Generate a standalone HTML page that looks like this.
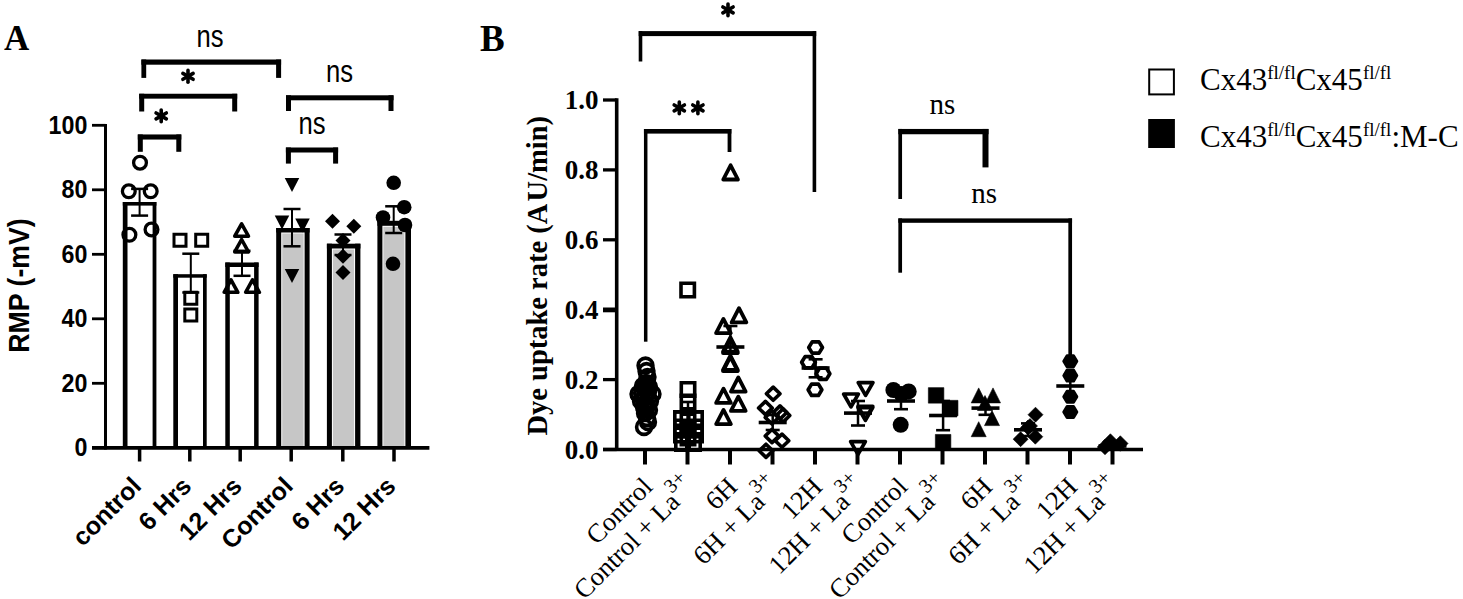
<!DOCTYPE html>
<html><head><meta charset="utf-8"><style>
html,body{margin:0;padding:0;background:#fff;overflow:hidden;}
svg{display:block;}
</style></head><body>
<svg width="1463" height="599" viewBox="0 0 1463 599">
<rect width="1463" height="599" fill="#fff"/>
<text x="4.00" y="49.50" font-family='"Liberation Serif", serif' font-size="35" font-weight="bold" text-anchor="start" >A</text>
<line x1="105.50" y1="124.00" x2="105.50" y2="449.50" stroke="#000" stroke-width="3" stroke-linecap="butt"/>
<line x1="92.00" y1="447.80" x2="105.50" y2="447.80" stroke="#000" stroke-width="2.8" stroke-linecap="butt"/>
<text transform="translate(87.3,456.35) scale(0.88,1)" font-family='"Liberation Sans", sans-serif' font-size="26.4" font-weight="bold" text-anchor="end">0</text>
<line x1="92.00" y1="383.30" x2="105.50" y2="383.30" stroke="#000" stroke-width="2.8" stroke-linecap="butt"/>
<text transform="translate(87.3,391.85) scale(0.88,1)" font-family='"Liberation Sans", sans-serif' font-size="26.4" font-weight="bold" text-anchor="end">20</text>
<line x1="92.00" y1="318.80" x2="105.50" y2="318.80" stroke="#000" stroke-width="2.8" stroke-linecap="butt"/>
<text transform="translate(87.3,327.35) scale(0.88,1)" font-family='"Liberation Sans", sans-serif' font-size="26.4" font-weight="bold" text-anchor="end">40</text>
<line x1="92.00" y1="254.30" x2="105.50" y2="254.30" stroke="#000" stroke-width="2.8" stroke-linecap="butt"/>
<text transform="translate(87.3,262.85) scale(0.88,1)" font-family='"Liberation Sans", sans-serif' font-size="26.4" font-weight="bold" text-anchor="end">60</text>
<line x1="92.00" y1="189.80" x2="105.50" y2="189.80" stroke="#000" stroke-width="2.8" stroke-linecap="butt"/>
<text transform="translate(87.3,198.35) scale(0.88,1)" font-family='"Liberation Sans", sans-serif' font-size="26.4" font-weight="bold" text-anchor="end">80</text>
<line x1="92.00" y1="125.30" x2="105.50" y2="125.30" stroke="#000" stroke-width="2.8" stroke-linecap="butt"/>
<text transform="translate(87.3,133.85) scale(0.88,1)" font-family='"Liberation Sans", sans-serif' font-size="26.4" font-weight="bold" text-anchor="end">100</text>
<text transform="translate(28.8,285.5) rotate(-90) scale(0.92,1)" font-family='"Liberation Sans", sans-serif' font-size="29" font-weight="bold" text-anchor="middle">RMP (-mV)</text>
<rect x="122.80" y="202.00" width="4.7" height="246.00" fill="#000"/>
<rect x="152.60" y="202.00" width="3.8" height="246.00" fill="#000"/>
<rect x="122.80" y="202.00" width="33.60" height="3.6" fill="#000"/>
<rect x="173.30" y="274.20" width="4.7" height="173.80" fill="#000"/>
<rect x="203.00" y="274.20" width="3.7" height="173.80" fill="#000"/>
<rect x="173.30" y="274.20" width="33.40" height="3.5" fill="#000"/>
<rect x="225.30" y="262.50" width="4.5" height="185.50" fill="#000"/>
<rect x="254.10" y="262.50" width="4.5" height="185.50" fill="#000"/>
<rect x="225.30" y="262.50" width="33.30" height="4.5" fill="#000"/>
<rect x="282.20" y="233.50" width="21.40" height="212.50" fill="#c6c6c6"/>
<rect x="276.20" y="228.00" width="5" height="220.00" fill="#000"/>
<rect x="304.60" y="228.00" width="5" height="220.00" fill="#000"/>
<rect x="276.20" y="228.00" width="33.40" height="4.5" fill="#000"/>
<rect x="332.90" y="249.50" width="21.20" height="196.50" fill="#c6c6c6"/>
<rect x="326.90" y="243.70" width="5" height="204.30" fill="#000"/>
<rect x="355.10" y="243.70" width="5.3" height="204.30" fill="#000"/>
<rect x="326.90" y="243.70" width="33.50" height="4.8" fill="#000"/>
<rect x="383.40" y="226.80" width="21.00" height="219.20" fill="#c6c6c6"/>
<rect x="377.40" y="220.80" width="5" height="227.20" fill="#000"/>
<rect x="405.40" y="220.80" width="5.6" height="227.20" fill="#000"/>
<rect x="377.40" y="220.80" width="33.60" height="5" fill="#000"/>
<line x1="92.00" y1="447.90" x2="429.40" y2="447.90" stroke="#000" stroke-width="3.8" stroke-linecap="butt"/>
<line x1="139.60" y1="447.90" x2="139.60" y2="461.50" stroke="#000" stroke-width="3.5" stroke-linecap="butt"/>
<line x1="189.80" y1="447.90" x2="189.80" y2="461.50" stroke="#000" stroke-width="3.5" stroke-linecap="butt"/>
<line x1="240.20" y1="447.90" x2="240.20" y2="461.50" stroke="#000" stroke-width="3.5" stroke-linecap="butt"/>
<line x1="291.20" y1="447.90" x2="291.20" y2="461.50" stroke="#000" stroke-width="3.5" stroke-linecap="butt"/>
<line x1="342.80" y1="447.90" x2="342.80" y2="461.50" stroke="#000" stroke-width="3.5" stroke-linecap="butt"/>
<line x1="394.00" y1="447.90" x2="394.00" y2="461.50" stroke="#000" stroke-width="3.5" stroke-linecap="butt"/>
<line x1="139.60" y1="188.90" x2="139.60" y2="215.60" stroke="#000" stroke-width="2" stroke-linecap="butt"/>
<line x1="131.10" y1="188.90" x2="148.10" y2="188.90" stroke="#000" stroke-width="2.5" stroke-linecap="butt"/>
<line x1="131.10" y1="215.60" x2="148.10" y2="215.60" stroke="#000" stroke-width="2.5" stroke-linecap="butt"/>
<line x1="190.80" y1="253.70" x2="190.80" y2="292.50" stroke="#000" stroke-width="2" stroke-linecap="butt"/>
<line x1="182.30" y1="253.70" x2="199.30" y2="253.70" stroke="#000" stroke-width="2.5" stroke-linecap="butt"/>
<line x1="182.30" y1="292.50" x2="199.30" y2="292.50" stroke="#000" stroke-width="2.5" stroke-linecap="butt"/>
<line x1="242.00" y1="250.80" x2="242.00" y2="275.80" stroke="#000" stroke-width="2" stroke-linecap="butt"/>
<line x1="233.50" y1="250.80" x2="250.50" y2="250.80" stroke="#000" stroke-width="2.5" stroke-linecap="butt"/>
<line x1="233.50" y1="275.80" x2="250.50" y2="275.80" stroke="#000" stroke-width="2.5" stroke-linecap="butt"/>
<line x1="292.00" y1="209.00" x2="292.00" y2="246.30" stroke="#000" stroke-width="2" stroke-linecap="butt"/>
<line x1="283.50" y1="209.00" x2="300.50" y2="209.00" stroke="#000" stroke-width="2.5" stroke-linecap="butt"/>
<line x1="283.50" y1="246.30" x2="300.50" y2="246.30" stroke="#000" stroke-width="2.5" stroke-linecap="butt"/>
<line x1="343.00" y1="234.50" x2="343.00" y2="255.00" stroke="#000" stroke-width="2" stroke-linecap="butt"/>
<line x1="334.50" y1="234.50" x2="351.50" y2="234.50" stroke="#000" stroke-width="2.5" stroke-linecap="butt"/>
<line x1="334.50" y1="255.00" x2="351.50" y2="255.00" stroke="#000" stroke-width="2.5" stroke-linecap="butt"/>
<line x1="393.70" y1="206.30" x2="393.70" y2="233.00" stroke="#000" stroke-width="2" stroke-linecap="butt"/>
<line x1="385.20" y1="206.30" x2="402.20" y2="206.30" stroke="#000" stroke-width="2.5" stroke-linecap="butt"/>
<line x1="385.20" y1="233.00" x2="402.20" y2="233.00" stroke="#000" stroke-width="2.5" stroke-linecap="butt"/>
<circle cx="140.00" cy="162.70" r="6.4" fill="none" stroke="#000" stroke-width="3.3"/>
<circle cx="128.80" cy="191.30" r="6.4" fill="none" stroke="#000" stroke-width="3.3"/>
<circle cx="150.70" cy="191.30" r="6.4" fill="none" stroke="#000" stroke-width="3.3"/>
<circle cx="129.40" cy="234.80" r="6.4" fill="none" stroke="#000" stroke-width="3.3"/>
<circle cx="151.50" cy="229.50" r="6.4" fill="none" stroke="#000" stroke-width="3.3"/>
<polygon points="174.00,234.30 186.00,234.30 186.00,246.30 174.00,246.30" fill="none" stroke="#000" stroke-width="3" stroke-linejoin="miter"/>
<polygon points="195.70,234.30 207.70,234.30 207.70,246.30 195.70,246.30" fill="none" stroke="#000" stroke-width="3" stroke-linejoin="miter"/>
<polygon points="184.80,292.30 196.80,292.30 196.80,304.30 184.80,304.30" fill="none" stroke="#000" stroke-width="3" stroke-linejoin="miter"/>
<polygon points="184.80,309.00 196.80,309.00 196.80,321.00 184.80,321.00" fill="none" stroke="#000" stroke-width="3" stroke-linejoin="miter"/>
<polygon points="241.60,223.80 248.45,236.20 234.75,236.20" fill="none" stroke="#000" stroke-width="3.6" stroke-linejoin="round"/>
<polygon points="241.60,239.50 248.45,251.90 234.75,251.90" fill="none" stroke="#000" stroke-width="3.6" stroke-linejoin="round"/>
<polygon points="231.00,279.90 237.85,292.30 224.15,292.30" fill="none" stroke="#000" stroke-width="3.6" stroke-linejoin="round"/>
<polygon points="252.50,279.90 259.35,292.30 245.65,292.30" fill="none" stroke="#000" stroke-width="3.6" stroke-linejoin="round"/>
<polygon points="292.00,192.12 299.25,178.12 284.75,178.12" fill="#000"/>
<polygon points="282.00,229.62 289.25,215.62 274.75,215.62" fill="#000"/>
<polygon points="302.50,232.62 309.75,218.62 295.25,218.62" fill="#000"/>
<polygon points="292.00,283.12 299.25,269.12 284.75,269.12" fill="#000"/>
<polygon points="332.50,213.80 340.00,221.30 332.50,228.80 325.00,221.30" fill="#000"/>
<polygon points="353.80,218.80 361.30,226.30 353.80,233.80 346.30,226.30" fill="#000"/>
<polygon points="343.00,233.00 350.50,240.50 343.00,248.00 335.50,240.50" fill="#000"/>
<polygon points="343.00,248.80 350.50,256.30 343.00,263.80 335.50,256.30" fill="#000"/>
<polygon points="343.00,265.00 350.50,272.50 343.00,280.00 335.50,272.50" fill="#000"/>
<circle cx="393.70" cy="182.80" r="7.3" fill="#000"/>
<circle cx="404.20" cy="207.20" r="7.3" fill="#000"/>
<circle cx="383.00" cy="217.50" r="7.3" fill="#000"/>
<circle cx="405.00" cy="225.00" r="7.3" fill="#000"/>
<circle cx="393.00" cy="263.80" r="7.3" fill="#000"/>
<rect x="141.40" y="59.50" width="139.70" height="5.2" fill="#000"/>
<rect x="141.40" y="59.50" width="4.8" height="18.40" fill="#000"/>
<rect x="276.10" y="59.50" width="5" height="18.40" fill="#000"/>
<rect x="139.20" y="93.75" width="98.00" height="4.9" fill="#000"/>
<rect x="139.20" y="93.75" width="5" height="17.75" fill="#000"/>
<rect x="232.20" y="93.75" width="5" height="17.75" fill="#000"/>
<rect x="137.80" y="134.45" width="43.50" height="5.1" fill="#000"/>
<rect x="137.80" y="134.45" width="5" height="17.35" fill="#000"/>
<rect x="176.30" y="134.45" width="5" height="17.35" fill="#000"/>
<rect x="286.00" y="95.30" width="107.50" height="5" fill="#000"/>
<rect x="286.00" y="95.30" width="5" height="15.70" fill="#000"/>
<rect x="388.50" y="95.30" width="5" height="15.70" fill="#000"/>
<rect x="285.90" y="147.50" width="52.20" height="5" fill="#000"/>
<rect x="285.90" y="147.50" width="5" height="16.10" fill="#000"/>
<rect x="333.10" y="147.50" width="5" height="16.10" fill="#000"/>
<line x1="188.00" y1="70.40" x2="188.00" y2="82.20" stroke="#000" stroke-width="3.6" stroke-linecap="round"/>
<line x1="182.89" y1="73.35" x2="193.11" y2="79.25" stroke="#000" stroke-width="3.6" stroke-linecap="round"/>
<line x1="182.89" y1="79.25" x2="193.11" y2="73.35" stroke="#000" stroke-width="3.6" stroke-linecap="round"/>
<line x1="161.20" y1="110.00" x2="161.20" y2="121.80" stroke="#000" stroke-width="3.6" stroke-linecap="round"/>
<line x1="156.09" y1="112.95" x2="166.31" y2="118.85" stroke="#000" stroke-width="3.6" stroke-linecap="round"/>
<line x1="156.09" y1="118.85" x2="166.31" y2="112.95" stroke="#000" stroke-width="3.6" stroke-linecap="round"/>
<text transform="translate(196.50,46.50) scale(0.80,1)" font-family='"Liberation Sans", sans-serif' font-size="32">ns</text>
<text transform="translate(326.00,82.00) scale(0.80,1)" font-family='"Liberation Sans", sans-serif' font-size="32">ns</text>
<text transform="translate(298.60,134.00) scale(0.80,1)" font-family='"Liberation Sans", sans-serif' font-size="32">ns</text>
<text transform="translate(142.70,487.7) rotate(-45)" font-family='"Liberation Sans", sans-serif' font-size="25" font-weight="bold" text-anchor="end">control</text>
<text transform="translate(192.90,487.7) rotate(-45)" font-family='"Liberation Sans", sans-serif' font-size="25" font-weight="bold" text-anchor="end">6 Hrs</text>
<text transform="translate(243.30,487.7) rotate(-45)" font-family='"Liberation Sans", sans-serif' font-size="25" font-weight="bold" text-anchor="end">12 Hrs</text>
<text transform="translate(294.30,487.7) rotate(-45)" font-family='"Liberation Sans", sans-serif' font-size="25" font-weight="bold" text-anchor="end">Control</text>
<text transform="translate(345.90,487.7) rotate(-45)" font-family='"Liberation Sans", sans-serif' font-size="25" font-weight="bold" text-anchor="end">6 Hrs</text>
<text transform="translate(397.10,487.7) rotate(-45)" font-family='"Liberation Sans", sans-serif' font-size="25" font-weight="bold" text-anchor="end">12 Hrs</text>
<text x="480.00" y="51.00" font-family='"Liberation Serif", serif' font-size="37" font-weight="bold" text-anchor="start" >B</text>
<line x1="616.70" y1="98.30" x2="616.70" y2="451.00" stroke="#000" stroke-width="3.6" stroke-linecap="butt"/>
<line x1="603.00" y1="449.50" x2="616.70" y2="449.50" stroke="#000" stroke-width="3.3" stroke-linecap="butt"/>
<text x="598.50" y="458.50" font-family='"Liberation Serif", serif' font-size="27" font-weight="bold" text-anchor="end" >0.0</text>
<line x1="603.00" y1="379.60" x2="616.70" y2="379.60" stroke="#000" stroke-width="3.3" stroke-linecap="butt"/>
<text x="598.50" y="388.60" font-family='"Liberation Serif", serif' font-size="27" font-weight="bold" text-anchor="end" >0.2</text>
<line x1="603.00" y1="309.90" x2="616.70" y2="309.90" stroke="#000" stroke-width="4.8" stroke-linecap="butt"/>
<text x="598.50" y="318.70" font-family='"Liberation Serif", serif' font-size="27" font-weight="bold" text-anchor="end" >0.4</text>
<line x1="603.00" y1="239.80" x2="616.70" y2="239.80" stroke="#000" stroke-width="3.3" stroke-linecap="butt"/>
<text x="598.50" y="248.80" font-family='"Liberation Serif", serif' font-size="27" font-weight="bold" text-anchor="end" >0.6</text>
<line x1="603.00" y1="169.90" x2="616.70" y2="169.90" stroke="#000" stroke-width="3.3" stroke-linecap="butt"/>
<text x="598.50" y="178.90" font-family='"Liberation Serif", serif' font-size="27" font-weight="bold" text-anchor="end" >0.8</text>
<line x1="603.00" y1="100.00" x2="616.70" y2="100.00" stroke="#000" stroke-width="3.3" stroke-linecap="butt"/>
<text x="598.50" y="109.00" font-family='"Liberation Serif", serif' font-size="27" font-weight="bold" text-anchor="end" >1.0</text>
<text transform="translate(547,275.7) rotate(-90)" font-family='"Liberation Serif", serif' font-size="28.8" font-weight="bold" text-anchor="middle" textLength="319.5" lengthAdjust="spacingAndGlyphs">Dye uptake rate (A&#8202;U/min)</text>
<line x1="603.00" y1="449.40" x2="1143.00" y2="449.40" stroke="#000" stroke-width="3.5" stroke-linecap="butt"/>
<line x1="645.00" y1="449.40" x2="645.00" y2="464.50" stroke="#000" stroke-width="4" stroke-linecap="butt"/>
<line x1="687.50" y1="449.40" x2="687.50" y2="464.50" stroke="#000" stroke-width="4" stroke-linecap="butt"/>
<line x1="730.00" y1="449.40" x2="730.00" y2="464.50" stroke="#000" stroke-width="4" stroke-linecap="butt"/>
<line x1="772.50" y1="449.40" x2="772.50" y2="464.50" stroke="#000" stroke-width="4" stroke-linecap="butt"/>
<line x1="815.00" y1="449.40" x2="815.00" y2="464.50" stroke="#000" stroke-width="4" stroke-linecap="butt"/>
<line x1="857.50" y1="449.40" x2="857.50" y2="464.50" stroke="#000" stroke-width="4" stroke-linecap="butt"/>
<line x1="900.00" y1="449.40" x2="900.00" y2="464.50" stroke="#000" stroke-width="4" stroke-linecap="butt"/>
<line x1="942.50" y1="449.40" x2="942.50" y2="464.50" stroke="#000" stroke-width="4" stroke-linecap="butt"/>
<line x1="985.00" y1="449.40" x2="985.00" y2="464.50" stroke="#000" stroke-width="4" stroke-linecap="butt"/>
<line x1="1027.50" y1="449.40" x2="1027.50" y2="464.50" stroke="#000" stroke-width="4" stroke-linecap="butt"/>
<line x1="1070.00" y1="449.40" x2="1070.00" y2="464.50" stroke="#000" stroke-width="4" stroke-linecap="butt"/>
<line x1="1112.50" y1="449.40" x2="1112.50" y2="464.50" stroke="#000" stroke-width="4" stroke-linecap="butt"/>
<rect x="638.70" y="31.10" width="177.50" height="5" fill="#000"/>
<rect x="638.70" y="31.10" width="3.6" height="30.40" fill="#000"/>
<rect x="812.60" y="31.10" width="3.6" height="160.90" fill="#000"/>
<line x1="728.00" y1="4.00" x2="728.00" y2="15.80" stroke="#000" stroke-width="3.6" stroke-linecap="round"/>
<line x1="722.89" y1="6.95" x2="733.11" y2="12.85" stroke="#000" stroke-width="3.6" stroke-linecap="round"/>
<line x1="722.89" y1="12.85" x2="733.11" y2="6.95" stroke="#000" stroke-width="3.6" stroke-linecap="round"/>
<rect x="643.95" y="129.00" width="87.45" height="4.6" fill="#000"/>
<rect x="643.95" y="129.00" width="3.5" height="212.70" fill="#000"/>
<rect x="727.60" y="129.00" width="3.8" height="23.00" fill="#000"/>
<line x1="679.30" y1="102.00" x2="679.30" y2="113.80" stroke="#000" stroke-width="3.6" stroke-linecap="round"/>
<line x1="674.19" y1="104.95" x2="684.41" y2="110.85" stroke="#000" stroke-width="3.6" stroke-linecap="round"/>
<line x1="674.19" y1="110.85" x2="684.41" y2="104.95" stroke="#000" stroke-width="3.6" stroke-linecap="round"/>
<line x1="697.90" y1="102.00" x2="697.90" y2="113.80" stroke="#000" stroke-width="3.6" stroke-linecap="round"/>
<line x1="692.79" y1="104.95" x2="703.01" y2="110.85" stroke="#000" stroke-width="3.6" stroke-linecap="round"/>
<line x1="692.79" y1="110.85" x2="703.01" y2="104.95" stroke="#000" stroke-width="3.6" stroke-linecap="round"/>
<rect x="898.35" y="128.95" width="90.15" height="5.3" fill="#000"/>
<rect x="898.35" y="128.95" width="3.7" height="70.05" fill="#000"/>
<rect x="982.50" y="128.95" width="6" height="38.45" fill="#000"/>
<rect x="898.35" y="218.40" width="173.70" height="4.4" fill="#000"/>
<rect x="898.35" y="218.40" width="3.7" height="54.30" fill="#000"/>
<rect x="1068.35" y="218.40" width="3.7" height="136.60" fill="#000"/>
<text transform="translate(929.50,114.00)" font-family='"Liberation Serif", serif' font-size="29">ns</text>
<text transform="translate(971.20,203.00)" font-family='"Liberation Serif", serif' font-size="29">ns</text>
<line x1="631.00" y1="398.00" x2="659.00" y2="398.00" stroke="#000" stroke-width="3.6" stroke-linecap="butt"/>
<line x1="645.00" y1="386.00" x2="645.00" y2="410.00" stroke="#000" stroke-width="2.5" stroke-linecap="butt"/>
<line x1="638.00" y1="386.00" x2="652.00" y2="386.00" stroke="#000" stroke-width="2.6" stroke-linecap="butt"/>
<line x1="638.00" y1="410.00" x2="652.00" y2="410.00" stroke="#000" stroke-width="2.6" stroke-linecap="butt"/>
<line x1="674.00" y1="412.00" x2="702.00" y2="412.00" stroke="#000" stroke-width="3.6" stroke-linecap="butt"/>
<line x1="688.00" y1="402.00" x2="688.00" y2="422.00" stroke="#000" stroke-width="2.5" stroke-linecap="butt"/>
<line x1="681.00" y1="402.00" x2="695.00" y2="402.00" stroke="#000" stroke-width="2.6" stroke-linecap="butt"/>
<line x1="681.00" y1="422.00" x2="695.00" y2="422.00" stroke="#000" stroke-width="2.6" stroke-linecap="butt"/>
<line x1="716.40" y1="347.00" x2="744.40" y2="347.00" stroke="#000" stroke-width="3.6" stroke-linecap="butt"/>
<line x1="730.40" y1="326.00" x2="730.40" y2="352.00" stroke="#000" stroke-width="2.5" stroke-linecap="butt"/>
<line x1="723.40" y1="326.00" x2="737.40" y2="326.00" stroke="#000" stroke-width="2.6" stroke-linecap="butt"/>
<line x1="723.40" y1="352.00" x2="737.40" y2="352.00" stroke="#000" stroke-width="2.6" stroke-linecap="butt"/>
<line x1="758.70" y1="422.50" x2="786.70" y2="422.50" stroke="#000" stroke-width="3.6" stroke-linecap="butt"/>
<line x1="772.70" y1="415.00" x2="772.70" y2="430.00" stroke="#000" stroke-width="2.5" stroke-linecap="butt"/>
<line x1="765.70" y1="415.00" x2="779.70" y2="415.00" stroke="#000" stroke-width="2.6" stroke-linecap="butt"/>
<line x1="765.70" y1="430.00" x2="779.70" y2="430.00" stroke="#000" stroke-width="2.6" stroke-linecap="butt"/>
<line x1="801.60" y1="368.00" x2="829.60" y2="368.00" stroke="#000" stroke-width="3.6" stroke-linecap="butt"/>
<line x1="815.60" y1="359.30" x2="815.60" y2="377.30" stroke="#000" stroke-width="2.5" stroke-linecap="butt"/>
<line x1="808.60" y1="359.30" x2="822.60" y2="359.30" stroke="#000" stroke-width="2.6" stroke-linecap="butt"/>
<line x1="808.60" y1="377.30" x2="822.60" y2="377.30" stroke="#000" stroke-width="2.6" stroke-linecap="butt"/>
<line x1="844.00" y1="413.10" x2="872.00" y2="413.10" stroke="#000" stroke-width="3.6" stroke-linecap="butt"/>
<line x1="858.00" y1="401.00" x2="858.00" y2="425.50" stroke="#000" stroke-width="2.5" stroke-linecap="butt"/>
<line x1="851.00" y1="401.00" x2="865.00" y2="401.00" stroke="#000" stroke-width="2.6" stroke-linecap="butt"/>
<line x1="851.00" y1="425.50" x2="865.00" y2="425.50" stroke="#000" stroke-width="2.6" stroke-linecap="butt"/>
<line x1="887.00" y1="401.00" x2="915.00" y2="401.00" stroke="#000" stroke-width="3.6" stroke-linecap="butt"/>
<line x1="901.00" y1="393.00" x2="901.00" y2="409.20" stroke="#000" stroke-width="2.5" stroke-linecap="butt"/>
<line x1="894.00" y1="393.00" x2="908.00" y2="393.00" stroke="#000" stroke-width="2.6" stroke-linecap="butt"/>
<line x1="894.00" y1="409.20" x2="908.00" y2="409.20" stroke="#000" stroke-width="2.6" stroke-linecap="butt"/>
<line x1="929.10" y1="415.50" x2="957.10" y2="415.50" stroke="#000" stroke-width="3.6" stroke-linecap="butt"/>
<line x1="943.10" y1="401.00" x2="943.10" y2="430.20" stroke="#000" stroke-width="2.5" stroke-linecap="butt"/>
<line x1="936.10" y1="401.00" x2="950.10" y2="401.00" stroke="#000" stroke-width="2.6" stroke-linecap="butt"/>
<line x1="936.10" y1="430.20" x2="950.10" y2="430.20" stroke="#000" stroke-width="2.6" stroke-linecap="butt"/>
<line x1="971.50" y1="408.10" x2="999.50" y2="408.10" stroke="#000" stroke-width="3.6" stroke-linecap="butt"/>
<line x1="985.50" y1="401.50" x2="985.50" y2="414.80" stroke="#000" stroke-width="2.5" stroke-linecap="butt"/>
<line x1="978.50" y1="401.50" x2="992.50" y2="401.50" stroke="#000" stroke-width="2.6" stroke-linecap="butt"/>
<line x1="978.50" y1="414.80" x2="992.50" y2="414.80" stroke="#000" stroke-width="2.6" stroke-linecap="butt"/>
<line x1="1014.00" y1="429.80" x2="1042.00" y2="429.80" stroke="#000" stroke-width="3.6" stroke-linecap="butt"/>
<line x1="1028.00" y1="423.40" x2="1028.00" y2="436.00" stroke="#000" stroke-width="2.5" stroke-linecap="butt"/>
<line x1="1021.00" y1="423.40" x2="1035.00" y2="423.40" stroke="#000" stroke-width="2.6" stroke-linecap="butt"/>
<line x1="1021.00" y1="436.00" x2="1035.00" y2="436.00" stroke="#000" stroke-width="2.6" stroke-linecap="butt"/>
<line x1="1056.30" y1="386.00" x2="1084.30" y2="386.00" stroke="#000" stroke-width="3.6" stroke-linecap="butt"/>
<line x1="1070.30" y1="375.00" x2="1070.30" y2="397.00" stroke="#000" stroke-width="2.5" stroke-linecap="butt"/>
<line x1="1063.30" y1="375.00" x2="1077.30" y2="375.00" stroke="#000" stroke-width="2.6" stroke-linecap="butt"/>
<line x1="1063.30" y1="397.00" x2="1077.30" y2="397.00" stroke="#000" stroke-width="2.6" stroke-linecap="butt"/>
<line x1="1098.50" y1="446.00" x2="1126.50" y2="446.00" stroke="#000" stroke-width="3.6" stroke-linecap="butt"/>
<line x1="1112.50" y1="444.00" x2="1112.50" y2="448.00" stroke="#000" stroke-width="2.5" stroke-linecap="butt"/>
<line x1="1105.50" y1="444.00" x2="1119.50" y2="444.00" stroke="#000" stroke-width="2.6" stroke-linecap="butt"/>
<line x1="1105.50" y1="448.00" x2="1119.50" y2="448.00" stroke="#000" stroke-width="2.6" stroke-linecap="butt"/>
<circle cx="645.50" cy="365.50" r="7.3999999999999995" fill="none" stroke="#000" stroke-width="3.6"/>
<circle cx="646.50" cy="371.00" r="7.3999999999999995" fill="none" stroke="#000" stroke-width="3.6"/>
<circle cx="647.50" cy="377.00" r="7.3999999999999995" fill="none" stroke="#000" stroke-width="3.6"/>
<circle cx="646.00" cy="383.00" r="7.3999999999999995" fill="none" stroke="#000" stroke-width="3.6"/>
<circle cx="643.00" cy="386.00" r="7.3999999999999995" fill="none" stroke="#000" stroke-width="3.6"/>
<circle cx="649.00" cy="387.00" r="7.3999999999999995" fill="none" stroke="#000" stroke-width="3.6"/>
<circle cx="645.00" cy="389.00" r="7.3999999999999995" fill="none" stroke="#000" stroke-width="3.6"/>
<circle cx="638.50" cy="394.00" r="7.3999999999999995" fill="none" stroke="#000" stroke-width="3.6"/>
<circle cx="652.50" cy="394.00" r="7.3999999999999995" fill="none" stroke="#000" stroke-width="3.6"/>
<circle cx="642.00" cy="393.00" r="7.3999999999999995" fill="none" stroke="#000" stroke-width="3.6"/>
<circle cx="648.00" cy="392.00" r="7.3999999999999995" fill="none" stroke="#000" stroke-width="3.6"/>
<circle cx="645.00" cy="396.00" r="7.3999999999999995" fill="none" stroke="#000" stroke-width="3.6"/>
<circle cx="641.00" cy="401.00" r="7.3999999999999995" fill="none" stroke="#000" stroke-width="3.6"/>
<circle cx="650.00" cy="401.00" r="7.3999999999999995" fill="none" stroke="#000" stroke-width="3.6"/>
<circle cx="645.00" cy="404.00" r="7.3999999999999995" fill="none" stroke="#000" stroke-width="3.6"/>
<circle cx="644.00" cy="407.00" r="7.3999999999999995" fill="none" stroke="#000" stroke-width="3.6"/>
<circle cx="649.00" cy="410.00" r="7.3999999999999995" fill="none" stroke="#000" stroke-width="3.6"/>
<circle cx="646.00" cy="409.00" r="7.3999999999999995" fill="none" stroke="#000" stroke-width="3.6"/>
<circle cx="645.00" cy="413.00" r="7.3999999999999995" fill="none" stroke="#000" stroke-width="3.6"/>
<circle cx="647.00" cy="418.00" r="7.3999999999999995" fill="none" stroke="#000" stroke-width="3.6"/>
<circle cx="648.00" cy="422.00" r="7.3999999999999995" fill="none" stroke="#000" stroke-width="3.6"/>
<circle cx="644.00" cy="427.00" r="7.3999999999999995" fill="none" stroke="#000" stroke-width="3.6"/>
<polygon points="681.00,283.30 694.40,283.30 694.40,296.70 681.00,296.70" fill="none" stroke="#000" stroke-width="3.6" stroke-linejoin="miter"/>
<polygon points="681.30,382.80 694.70,382.80 694.70,396.20 681.30,396.20" fill="none" stroke="#000" stroke-width="3.6" stroke-linejoin="miter"/>
<polygon points="681.30,395.30 694.70,395.30 694.70,408.70 681.30,408.70" fill="none" stroke="#000" stroke-width="3.6" stroke-linejoin="miter"/>
<polygon points="674.80,411.80 688.20,411.80 688.20,425.20 674.80,425.20" fill="none" stroke="#000" stroke-width="3.6" stroke-linejoin="miter"/>
<polygon points="688.80,411.80 702.20,411.80 702.20,425.20 688.80,425.20" fill="none" stroke="#000" stroke-width="3.6" stroke-linejoin="miter"/>
<polygon points="681.30,414.30 694.70,414.30 694.70,427.70 681.30,427.70" fill="none" stroke="#000" stroke-width="3.6" stroke-linejoin="miter"/>
<polygon points="674.80,420.30 688.20,420.30 688.20,433.70 674.80,433.70" fill="none" stroke="#000" stroke-width="3.6" stroke-linejoin="miter"/>
<polygon points="688.80,420.30 702.20,420.30 702.20,433.70 688.80,433.70" fill="none" stroke="#000" stroke-width="3.6" stroke-linejoin="miter"/>
<polygon points="681.30,423.30 694.70,423.30 694.70,436.70 681.30,436.70" fill="none" stroke="#000" stroke-width="3.6" stroke-linejoin="miter"/>
<polygon points="674.80,428.30 688.20,428.30 688.20,441.70 674.80,441.70" fill="none" stroke="#000" stroke-width="3.6" stroke-linejoin="miter"/>
<polygon points="688.80,428.30 702.20,428.30 702.20,441.70 688.80,441.70" fill="none" stroke="#000" stroke-width="3.6" stroke-linejoin="miter"/>
<polygon points="681.30,431.30 694.70,431.30 694.70,444.70 681.30,444.70" fill="none" stroke="#000" stroke-width="3.6" stroke-linejoin="miter"/>
<polygon points="675.80,436.80 689.20,436.80 689.20,450.20 675.80,450.20" fill="none" stroke="#000" stroke-width="3.6" stroke-linejoin="miter"/>
<polygon points="686.80,436.80 700.20,436.80 700.20,450.20 686.80,450.20" fill="none" stroke="#000" stroke-width="3.6" stroke-linejoin="miter"/>
<polygon points="730.60,165.30 737.95,179.50 723.25,179.50" fill="none" stroke="#000" stroke-width="3.8" stroke-linejoin="round"/>
<polygon points="739.00,308.20 746.35,322.40 731.65,322.40" fill="none" stroke="#000" stroke-width="3.8" stroke-linejoin="round"/>
<polygon points="723.40,318.90 730.75,333.10 716.05,333.10" fill="none" stroke="#000" stroke-width="3.8" stroke-linejoin="round"/>
<polygon points="730.40,337.40 737.75,351.60 723.05,351.60" fill="none" stroke="#000" stroke-width="3.8" stroke-linejoin="round"/>
<polygon points="730.40,338.90 737.75,353.10 723.05,353.10" fill="none" stroke="#000" stroke-width="3.8" stroke-linejoin="round"/>
<polygon points="730.40,355.70 737.75,369.90 723.05,369.90" fill="none" stroke="#000" stroke-width="3.8" stroke-linejoin="round"/>
<polygon points="730.40,356.90 737.75,371.10 723.05,371.10" fill="none" stroke="#000" stroke-width="3.8" stroke-linejoin="round"/>
<polygon points="738.30,377.40 745.65,391.60 730.95,391.60" fill="none" stroke="#000" stroke-width="3.8" stroke-linejoin="round"/>
<polygon points="723.50,388.70 730.85,402.90 716.15,402.90" fill="none" stroke="#000" stroke-width="3.8" stroke-linejoin="round"/>
<polygon points="738.30,396.70 745.65,410.90 730.95,410.90" fill="none" stroke="#000" stroke-width="3.8" stroke-linejoin="round"/>
<polygon points="723.50,409.90 730.85,424.10 716.15,424.10" fill="none" stroke="#000" stroke-width="3.8" stroke-linejoin="round"/>
<polygon points="773.20,387.11 780.04,393.70 773.20,400.29 766.36,393.70" fill="none" stroke="#000" stroke-width="3.6" stroke-linejoin="round"/>
<polygon points="765.40,401.41 772.24,408.00 765.40,414.59 758.56,408.00" fill="none" stroke="#000" stroke-width="3.6" stroke-linejoin="round"/>
<polygon points="780.00,405.91 786.84,412.50 780.00,419.09 773.16,412.50" fill="none" stroke="#000" stroke-width="3.6" stroke-linejoin="round"/>
<polygon points="783.00,408.91 789.84,415.50 783.00,422.09 776.16,415.50" fill="none" stroke="#000" stroke-width="3.6" stroke-linejoin="round"/>
<polygon points="772.00,410.81 778.84,417.40 772.00,423.99 765.16,417.40" fill="none" stroke="#000" stroke-width="3.6" stroke-linejoin="round"/>
<polygon points="772.00,429.41 778.84,436.00 772.00,442.59 765.16,436.00" fill="none" stroke="#000" stroke-width="3.6" stroke-linejoin="round"/>
<polygon points="782.00,434.11 788.84,440.70 782.00,447.29 775.16,440.70" fill="none" stroke="#000" stroke-width="3.6" stroke-linejoin="round"/>
<polygon points="766.00,444.21 772.84,450.80 766.00,457.39 759.16,450.80" fill="none" stroke="#000" stroke-width="3.6" stroke-linejoin="round"/>
<polygon points="808.75,347.50 812.18,341.85 819.02,341.85 822.45,347.50 819.02,353.15 812.18,353.15" fill="none" stroke="#000" stroke-width="3.7" stroke-linejoin="round"/>
<polygon points="801.65,362.30 805.08,356.65 811.92,356.65 815.35,362.30 811.92,367.95 805.08,367.95" fill="none" stroke="#000" stroke-width="3.7" stroke-linejoin="round"/>
<polygon points="816.15,373.70 819.58,368.05 826.42,368.05 829.85,373.70 826.42,379.35 819.58,379.35" fill="none" stroke="#000" stroke-width="3.7" stroke-linejoin="round"/>
<polygon points="808.15,389.80 811.58,384.15 818.42,384.15 821.85,389.80 818.42,395.45 811.58,395.45" fill="none" stroke="#000" stroke-width="3.7" stroke-linejoin="round"/>
<polygon points="865.60,395.40 872.95,382.60 858.25,382.60" fill="none" stroke="#000" stroke-width="3.7" stroke-linejoin="round"/>
<polygon points="851.00,406.80 858.35,394.00 843.65,394.00" fill="none" stroke="#000" stroke-width="3.7" stroke-linejoin="round"/>
<polygon points="865.40,419.10 872.75,406.30 858.05,406.30" fill="none" stroke="#000" stroke-width="3.7" stroke-linejoin="round"/>
<polygon points="865.40,420.40 872.75,407.60 858.05,407.60" fill="none" stroke="#000" stroke-width="3.7" stroke-linejoin="round"/>
<polygon points="858.00,454.40 865.35,441.60 850.65,441.60" fill="none" stroke="#000" stroke-width="3.7" stroke-linejoin="round"/>
<circle cx="893.40" cy="390.00" r="8.0" fill="#000"/>
<circle cx="908.70" cy="391.40" r="8.0" fill="#000"/>
<circle cx="901.40" cy="394.00" r="8.0" fill="#000"/>
<circle cx="900.70" cy="424.80" r="8.0" fill="#000"/>
<polygon points="928.35,387.65 943.85,387.65 943.85,403.15 928.35,403.15" fill="#000" stroke="#000" stroke-width="0.6" stroke-linejoin="round"/>
<polygon points="942.45,400.35 957.95,400.35 957.95,415.85 942.45,415.85" fill="#000" stroke="#000" stroke-width="0.6" stroke-linejoin="round"/>
<polygon points="935.35,434.45 950.85,434.45 950.85,449.95 935.35,449.95" fill="#000" stroke="#000" stroke-width="0.6" stroke-linejoin="round"/>
<polygon points="978.70,387.90 986.20,402.90 971.20,402.90" fill="#000" stroke="#000" stroke-width="0.6" stroke-linejoin="round"/>
<polygon points="993.00,387.90 1000.50,402.90 985.50,402.90" fill="#000" stroke="#000" stroke-width="0.6" stroke-linejoin="round"/>
<polygon points="985.00,395.50 992.50,410.50 977.50,410.50" fill="#000" stroke="#000" stroke-width="0.6" stroke-linejoin="round"/>
<polygon points="992.00,410.60 999.50,425.60 984.50,425.60" fill="#000" stroke="#000" stroke-width="0.6" stroke-linejoin="round"/>
<polygon points="978.70,421.70 986.20,436.70 971.20,436.70" fill="#000" stroke="#000" stroke-width="0.6" stroke-linejoin="round"/>
<polygon points="1035.50,407.20 1043.00,414.70 1035.50,422.20 1028.00,414.70" fill="#000" stroke="#000" stroke-width="0.6" stroke-linejoin="round"/>
<polygon points="1028.00,420.00 1035.50,427.50 1028.00,435.00 1020.50,427.50" fill="#000" stroke="#000" stroke-width="0.6" stroke-linejoin="round"/>
<polygon points="1030.00,418.50 1037.50,426.00 1030.00,433.50 1022.50,426.00" fill="#000" stroke="#000" stroke-width="0.6" stroke-linejoin="round"/>
<polygon points="1035.30,429.20 1042.80,436.70 1035.30,444.20 1027.80,436.70" fill="#000" stroke="#000" stroke-width="0.6" stroke-linejoin="round"/>
<polygon points="1020.60,431.70 1028.10,439.20 1020.60,446.70 1013.10,439.20" fill="#000" stroke="#000" stroke-width="0.6" stroke-linejoin="round"/>
<polygon points="1063.70,361.30 1067.00,355.70 1073.60,355.70 1076.90,361.30 1073.60,366.90 1067.00,366.90" fill="#000" stroke="#000" stroke-width="2.8" stroke-linejoin="round"/>
<polygon points="1063.70,375.60 1067.00,370.00 1073.60,370.00 1076.90,375.60 1073.60,381.20 1067.00,381.20" fill="#000" stroke="#000" stroke-width="2.8" stroke-linejoin="round"/>
<polygon points="1063.70,396.80 1067.00,391.20 1073.60,391.20 1076.90,396.80 1073.60,402.40 1067.00,402.40" fill="#000" stroke="#000" stroke-width="2.8" stroke-linejoin="round"/>
<polygon points="1063.70,412.00 1067.00,406.40 1073.60,406.40 1076.90,412.00 1073.60,417.60 1067.00,417.60" fill="#000" stroke="#000" stroke-width="2.8" stroke-linejoin="round"/>
<polygon points="1110.40,433.75 1118.15,441.50 1110.40,449.25 1102.65,441.50" fill="#000" stroke="#000" stroke-width="0.6" stroke-linejoin="round"/>
<polygon points="1120.30,435.75 1128.05,443.50 1120.30,451.25 1112.55,443.50" fill="#000" stroke="#000" stroke-width="0.6" stroke-linejoin="round"/>
<polygon points="1105.00,439.25 1112.75,447.00 1105.00,454.75 1097.25,447.00" fill="#000" stroke="#000" stroke-width="0.6" stroke-linejoin="round"/>
<text transform="translate(653.90,488.4) rotate(-45)" font-family='"Liberation Serif", serif' font-size="26.5" text-anchor="end">Control</text>
<text transform="translate(696.40,488.4) rotate(-45)" font-family='"Liberation Serif", serif' font-size="26.5" text-anchor="end">Control + La<tspan dy="-13.5" font-size="20">3+</tspan></text>
<text transform="translate(738.90,488.4) rotate(-45)" font-family='"Liberation Serif", serif' font-size="26.5" text-anchor="end">6H</text>
<text transform="translate(781.40,488.4) rotate(-45)" font-family='"Liberation Serif", serif' font-size="26.5" text-anchor="end">6H + La<tspan dy="-13.5" font-size="20">3+</tspan></text>
<text transform="translate(823.90,488.4) rotate(-45)" font-family='"Liberation Serif", serif' font-size="26.5" text-anchor="end">12H</text>
<text transform="translate(866.40,488.4) rotate(-45)" font-family='"Liberation Serif", serif' font-size="26.5" text-anchor="end">12H + La<tspan dy="-13.5" font-size="20">3+</tspan></text>
<text transform="translate(908.90,488.4) rotate(-45)" font-family='"Liberation Serif", serif' font-size="26.5" text-anchor="end">Control</text>
<text transform="translate(951.40,488.4) rotate(-45)" font-family='"Liberation Serif", serif' font-size="26.5" text-anchor="end">Control + La<tspan dy="-13.5" font-size="20">3+</tspan></text>
<text transform="translate(993.90,488.4) rotate(-45)" font-family='"Liberation Serif", serif' font-size="26.5" text-anchor="end">6H</text>
<text transform="translate(1036.40,488.4) rotate(-45)" font-family='"Liberation Serif", serif' font-size="26.5" text-anchor="end">6H + La<tspan dy="-13.5" font-size="20">3+</tspan></text>
<text transform="translate(1078.90,488.4) rotate(-45)" font-family='"Liberation Serif", serif' font-size="26.5" text-anchor="end">12H</text>
<text transform="translate(1121.40,488.4) rotate(-45)" font-family='"Liberation Serif", serif' font-size="26.5" text-anchor="end">12H + La<tspan dy="-13.5" font-size="20">3+</tspan></text>
<rect x="1149.2" y="69.5" width="24.7" height="24.9" fill="none" stroke="#000" stroke-width="2"/>
<rect x="1148.2" y="119" width="26.7" height="29" fill="#000"/>
<text x="1200" y="90.2" font-family='"Liberation Serif", serif' font-size="31">Cx43<tspan dy="-11" font-size="19">fl/fl</tspan><tspan dy="11">Cx45</tspan><tspan dy="-11" font-size="19">fl/fl</tspan><tspan dy="11"></tspan></text>
<text x="1200" y="147" font-family='"Liberation Serif", serif' font-size="31">Cx43<tspan dy="-11" font-size="19">fl/fl</tspan><tspan dy="11">Cx45</tspan><tspan dy="-11" font-size="19">fl/fl</tspan><tspan dy="11">:M-C</tspan></text>
</svg>
</body></html>
